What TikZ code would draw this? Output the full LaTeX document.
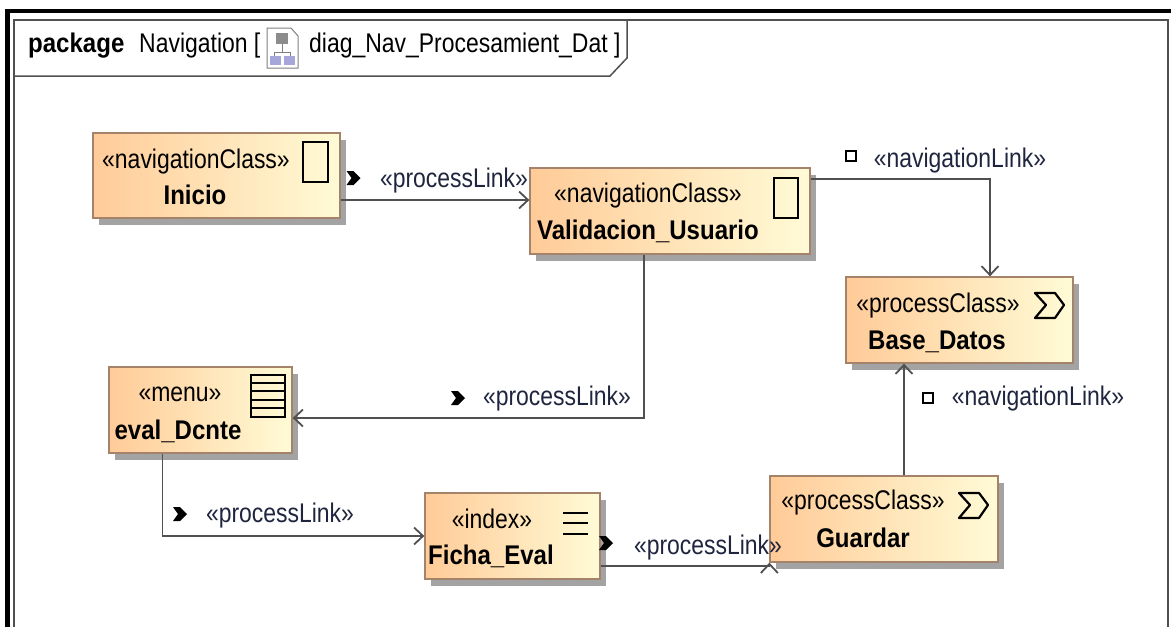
\documentclass[tikz,border=0pt]{standalone}
\usepackage{fontspec}
\setmainfont{Liberation Sans}
\usetikzlibrary{arrows.meta,shadows}

\definecolor{linkgray}{HTML}{505050}
\definecolor{boxedge}{HTML}{A5836A}
\definecolor{boxleft}{HTML}{FFCB98}
\definecolor{boxright}{HTML}{FFFBD6}
\definecolor{labelblue}{HTML}{20253F}

\newcommand{\slim}[1]{\scalebox{0.85}[1]{#1}}
\newcommand{\slimb}[1]{\scalebox{0.89}[1]{\bfseries #1}}

\tikzset{
  classbox/.style={draw=boxedge,line width=1.3pt,left color=boxleft,right color=boxright,
    drop shadow={shadow xshift=6pt,shadow yshift=-7pt,fill=black!45,opacity=0.8}},
  boxtext/.style={inner sep=0pt,font=\fontsize{27}{27}\selectfont,text height=19pt,text depth=6pt},
  linktext/.style={boxtext,text=labelblue},
  link/.style={draw=linkgray,line width=1.8pt},
  procmark/.pic={\fill[black] (-7,-7) -- (0,-7) -- (7,0) -- (0,7) -- (-7,7) -- (-2,0) -- cycle;},
  navmark/.pic={\draw[black,line width=2pt,fill=white] (-5,-5) rectangle (5,5);},
  sigmaicon/.pic={\draw[black,line width=2.2pt,line join=round,fill=none] (0,0) -- (20,0) -- (29,12) -- (20,25) -- (0,25) -- (11,12) -- cycle;},
}

\begin{document}
\begin{tikzpicture}[x=1pt,y=-1pt,>={Straight Barb[length=9pt,width=17pt]}]
\useasboundingbox (0,0) rectangle (1171,627);

% frame
\draw[black,line width=4.5pt] (7.5,627) -- (7.5,11) -- (1171,11);
\draw[linkgray,line width=1.5pt] (14,627) -- (14,20) -- (1168,20) -- (1168,627);
\draw[linkgray,line width=1.5pt] (14,76) -- (610,76) -- (627,58) -- (627,20);
\path (28,46) node[boxtext,anchor=west] (PkgKey) {\slimb{package}};
\path (139,46) node[boxtext,anchor=west] (PkgName) {\slim{Navigation [}};
\path (309,46) node[boxtext,anchor=west] (PkgDiag) {\slim{diag\_Nav\_Procesamient\_Dat ]}};

% diagram icon
\draw[gray,line width=1pt,fill=white] (267,28) -- (291,28) -- (298,36) -- (298,68) -- (267,68) -- cycle;
\fill[black!45] (276,33) rectangle (288,44);
\draw[gray] (282,44) -- (282,52) (274,52) -- (290,52) (274,52) -- (274,56) (290,52) -- (290,56);
\fill[black!40!blue!35] (270,56) rectangle (281,65);
\fill[black!40!blue!35] (284,56) rectangle (295,65);

% boxes
\path (216.5,175.5) node[classbox,minimum width=247pt,minimum height=85pt] (Inicio) {};
\path (670,211) node[classbox,minimum width=280pt,minimum height=86pt] (Validacion) {};
\path (959.5,320) node[classbox,minimum width=227pt,minimum height=86pt] (BaseDatos) {};
\path (200.5,410) node[classbox,minimum width=183pt,minimum height=86pt] (EvalDcnte) {};
\path (512.5,536) node[classbox,minimum width=175pt,minimum height=86pt] (FichaEval) {};
\path (884,519) node[classbox,minimum width=228pt,minimum height=86pt] (Guardar) {};

% box texts
\path (196,162) node[boxtext] (InicioType) {\slim{«navigationClass»}};
\path (195,198) node[boxtext] (InicioName) {\slimb{Inicio}};
\path (648,196) node[boxtext] (ValidacionType) {\slim{«navigationClass»}};
\path (648,233) node[boxtext] (ValidacionName) {\slimb{Validacion\_Usuario}};
\path (938,306) node[boxtext] (BaseType) {\slim{«processClass»}};
\path (937,343) node[boxtext] (BaseName) {\slimb{Base\_Datos}};
\path (180,395) node[boxtext] (EvalType) {\slim{«menu»}};
\path (178,433) node[boxtext] (EvalName) {\slimb{eval\_Dcnte}};
\path (492,522) node[boxtext] (FichaType) {\slim{«index»}};
\path (491,558) node[boxtext] (FichaName) {\slimb{Ficha\_Eval}};
\path (863,503) node[boxtext] (GuardarType) {\slim{«processClass»}};
\path (863,541) node[boxtext] (GuardarName) {\slimb{Guardar}};

% box icons
\draw[black,line width=1.5pt] (303,142) rectangle (328,182);
\draw[black,line width=1.5pt] (774,178) rectangle (798,218);
\path (1035,293) pic {sigmaicon};
\path (959,493) pic {sigmaicon};
\draw[black,line width=1.6pt] (251,375) rectangle (285,417);
\foreach \y in {383,391,400,408} \draw[black,line width=1.6pt] (251,\y) -- (285,\y);
\foreach \y in {513,523,534} \draw[black,line width=1.6pt] (563,\y) -- (588,\y);

% links
\draw[link,->] ([yshift=-24.5pt]Inicio.east) -- ([yshift=11pt]Validacion.west);
\draw[link,->] ([yshift=32pt]Validacion.east) -| ([xshift=30.5pt]BaseDatos.north);
\draw[link,->] ([xshift=-26pt]Validacion.south) |- ([yshift=-8pt]EvalDcnte.east);
\draw[link,->] ([xshift=-38pt]EvalDcnte.south) |- (FichaEval.west);
\draw[link,->] ([yshift=-30pt]FichaEval.east) -| (Guardar.south west);
\draw[link,->] ([xshift=20pt]Guardar.north) -- ([xshift=-55.5pt]BaseDatos.south);

% link labels
\path (353.5,178) pic {procmark};
\path (851,156) pic {navmark};
\path (458,398) pic {procmark};
\path (180,514) pic {procmark};
\path (606,543) pic {procmark};
\path (928,398) pic {navmark};
\path (454,181) node[linktext] (LinkA) {\slim{«processLink»}};
\path (960,161) node[linktext] (LinkB) {\slim{«navigationLink»}};
\path (557,399) node[linktext] (LinkC) {\slim{«processLink»}};
\path (280,516) node[linktext] (LinkD) {\slim{«processLink»}};
\path (708,548) node[linktext] (LinkE) {\slim{«processLink»}};
\path (1038,399) node[linktext] (LinkF) {\slim{«navigationLink»}};
\end{tikzpicture}
\end{document}
